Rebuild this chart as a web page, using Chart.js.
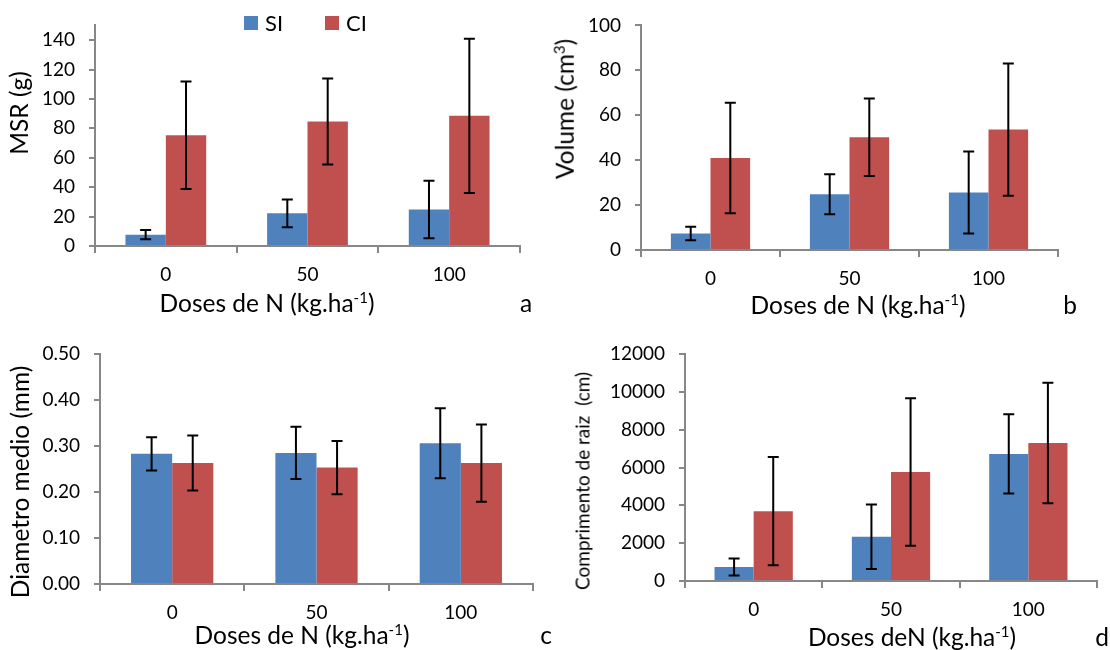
<!DOCTYPE html>
<html>
<head>
<meta charset="utf-8">
<script src="https://cdn.jsdelivr.net/npm/chart.js@4.4.1/dist/chart.umd.min.js"></script>
<style>
  html, body { margin: 0; padding: 0; background: #fff; }
  #page { position: relative; width: 1110px; height: 650px; overflow: hidden; font-family: Lato, "Noto Sans", sans-serif; color: #000; }
  #page canvas { position: absolute; left: 0; top: 0; }
  .lbl { position: absolute; white-space: nowrap; transform: translate(-50%, -50%); font-size: 24.5px; line-height: 1; }
  .rot { transform: translate(-50%, -50%) rotate(-90deg); }
  .lbl sup { font-size: 15px; vertical-align: 9px; line-height: 0; }
  .leg { position: absolute; font-size: 22px; line-height: 1; }
  .box { position: absolute; width: 14px; height: 14px; }
</style>
</head>
<body>
<div id="page">
  <canvas id="cA" width="1110" height="650"></canvas>
  <canvas id="cB" width="1110" height="650"></canvas>
  <canvas id="cC" width="1110" height="650"></canvas>
  <canvas id="cD" width="1110" height="650"></canvas>

  <!-- legenda -->
  <div class="box" style="left:244px;top:16px;background:#4F81BD"></div>
  <div class="leg" style="left:265px;top:12px">SI</div>
  <div class="box" style="left:325px;top:16px;background:#C0504D"></div>
  <div class="leg" style="left:346px;top:12px">CI</div>

  <!-- titulos dos eixos -->
  <div class="lbl rot" style="left:19px;top:113px">MSR (g)</div>
  <div class="lbl" style="left:267px;top:303px">Doses de N (kg.ha<sup>-1</sup>)</div>
  <div class="lbl" style="left:526px;top:303px">a</div>

  <div class="lbl rot" style="left:565px;top:109px">Volume (cm<sup>3</sup>)</div>
  <div class="lbl" style="left:858px;top:305px">Doses de N (kg.ha<sup>-1</sup>)</div>
  <div class="lbl" style="left:1070px;top:305px">b</div>

  <div class="lbl rot" style="left:20px;top:482px">Diametro medio (mm)</div>
  <div class="lbl" style="left:302px;top:635px">Doses de N (kg.ha<sup>-1</sup>)</div>
  <div class="lbl" style="left:546px;top:635px">c</div>

  <div class="lbl rot" style="left:582px;top:481px;font-size:19px">Comprimento de raiz&nbsp; (cm)</div>
  <div class="lbl" style="left:912px;top:637px">Doses deN (kg.ha<sup>-1</sup>)</div>
  <div class="lbl" style="left:1102px;top:637px">d</div>
</div>
<script>
// Dados
const doses = ['0', '50', '100'];

const msrSI = [7.7, 22.2, 24.8];
const msrSIerr = [3.1, 9.5, 19.5];
const msrCI = [75.3, 84.7, 88.5];
const msrCIerr = [36.6, 29.2, 52.4];
const msrTicks = [0, 20, 40, 60, 80, 100, 120, 140];

const volSI = [7.3, 24.8, 25.6];
const volSIerr = [3.0, 8.9, 18.3];
const volCI = [41.0, 50.2, 53.6];
const volCIerr = [24.6, 17.3, 29.4];
const volTicks = [0, 20, 40, 60, 80, 100];

const diamSI = [0.283, 0.285, 0.306];
const diamSIerr = [0.036, 0.057, 0.076];
const diamCI = [0.263, 0.253, 0.263];
const diamCIerr = [0.060, 0.058, 0.084];
const diamTicks = [0, 0.1, 0.2, 0.3, 0.4, 0.5];

const compSI = [745, 2340, 6720];
const compSIerr = [450, 1700, 2094];
const compCI = [3690, 5760, 7300];
const compCIerr = [2860, 3900, 3185];
const compTicks = [0, 2000, 4000, 6000, 8000, 10000, 12000];

const azul = '#4F81BD';
const vermelho = '#C0504D';
const cinza = '#878787';

// Barras de erro desenhadas com as escalas do Chart.js
const errorBars = {
    id: 'errorBars',
    afterDatasetsDraw(chart) {
        const c = chart.ctx;
        const y = chart.scales.y;
        c.save();
        c.strokeStyle = '#000';
        c.lineWidth = 2;
        chart.data.datasets.forEach((ds, i) => {
            chart.getDatasetMeta(i).data.forEach((bar, j) => {
                const v = ds.data[j], e = ds.err[j];
                const top = y.getPixelForValue(v + e);
                const bot = y.getPixelForValue(v - e);
                c.beginPath();
                c.moveTo(bar.x, top); c.lineTo(bar.x, bot);
                c.moveTo(bar.x - 5.5, top); c.lineTo(bar.x + 5.5, top);
                c.moveTo(bar.x - 5.5, bot); c.lineTo(bar.x + 5.5, bot);
                c.stroke();
            });
        });
        c.restore();
    }
};

const Y_W = 80, X_H = 50;

function painel(id, area, si, siErr, ci, ciErr, max, tickVals, fmt) {
    new Chart(document.getElementById(id), {
        type: 'bar',
        data: {
            labels: doses,
            datasets: [
                { label: 'SI', data: si, err: siErr, backgroundColor: azul },
                { label: 'CI', data: ci, err: ciErr, backgroundColor: vermelho }
            ]
        },
        options: {
            responsive: false,
            animation: false,
            events: [],
            layout: {
                padding: { left: area.left - Y_W, top: area.top, right: 1110 - area.right, bottom: 650 - area.bottom - X_H }
            },
            datasets: { bar: { barPercentage: 1, categoryPercentage: 0.57 } },
            plugins: { legend: { display: false }, tooltip: { enabled: false } },
            scales: {
                x: {
                    afterFit: s => { s.height = X_H; },
                    grid: { drawOnChartArea: false, tickLength: 7, color: cinza, lineWidth: 2 },
                    border: { color: cinza, width: 2 },
                    ticks: { color: '#000', padding: 10, font: { family: 'Lato', size: 19 } }
                },
                y: {
                    min: 0, max: max,
                    afterFit: s => { s.width = Y_W; },
                    afterBuildTicks: s => { s.ticks = tickVals.map(v => ({ value: v })); },
                    grid: { drawOnChartArea: false, tickLength: 6, color: cinza, lineWidth: 2 },
                    border: { color: cinza, width: 2 },
                    ticks: { color: '#000', padding: 14, font: { family: 'Lato', size: 19 }, callback: fmt }
                }
            }
        },
        plugins: [errorBars]
    });
}

const inteiro = v => String(Math.round(v));
painel('cA', { left: 95, top: 18, right: 520, bottom: 246 }, msrSI, msrSIerr, msrCI, msrCIerr, 150, msrTicks, inteiro);
painel('cB', { left: 641, top: 17, right: 1058, bottom: 250 }, volSI, volSIerr, volCI, volCIerr, 100, volTicks, inteiro);
painel('cC', { left: 100, top: 354, right: 533, bottom: 584 }, diamSI, diamSIerr, diamCI, diamCIerr, 0.5, diamTicks, v => v.toFixed(2));
painel('cD', { left: 685, top: 354, right: 1097, bottom: 581 }, compSI, compSIerr, compCI, compCIerr, 12000, compTicks, inteiro);
</script>
</body>
</html>
